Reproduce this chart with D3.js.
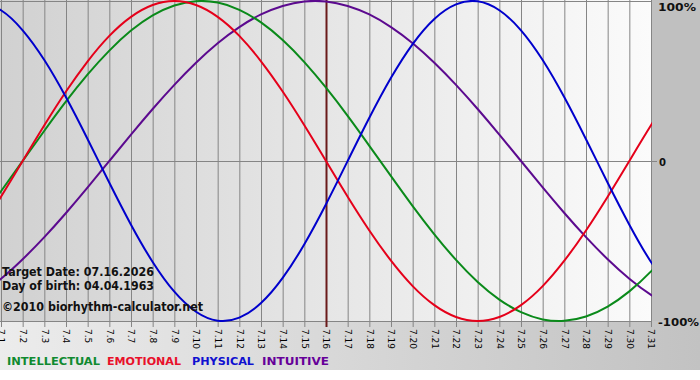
<!DOCTYPE html>
<html><head><meta charset="utf-8">
<script src="https://cdn.jsdelivr.net/npm/d3@7"></script>
<style>body{margin:0;background:#fff}svg{display:block}</style>
</head><body>
<script>
const days = [1,2,3,4,5,6,7,8,9,10,11,12,13,14,15,16,17,18,19,20,21,22,23,24,25,26,27,28,29,30,31];
const dayLabels = ["7.1","7.2","7.3","7.4","7.5","7.6","7.7","7.8","7.9","7.10","7.11","7.12","7.13","7.14","7.15","7.16","7.17","7.18","7.19","7.20","7.21","7.22","7.23","7.24","7.25","7.26","7.27","7.28","7.29","7.30","7.31"];
// curve samples include the day before (6.30) and after (8.1) the window, clipped to the plot
const curveDays = [0,1,2,3,4,5,6,7,8,9,10,11,12,13,14,15,16,17,18,19,20,21,22,23,24,25,26,27,28,29,30,31,32];
const intellectual = [-0.372,-0.189,0,0.189,0.372,0.541,0.690,0.815,0.910,0.972,0.999,0.990,0.945,0.866,0.756,0.618,0.458,0.282,0.095,-0.095,-0.282,-0.458,-0.618,-0.756,-0.866,-0.945,-0.990,-0.999,-0.972,-0.910,-0.815,-0.690,-0.541];
const emotional = [-0.434,-0.223,0,0.223,0.434,0.623,0.782,0.901,0.975,1,0.975,0.901,0.782,0.623,0.434,0.223,0,-0.223,-0.434,-0.623,-0.782,-0.901,-0.975,-1,-0.975,-0.901,-0.782,-0.623,-0.434,-0.223,0,0.223,0.434];
const physical = [0.998,0.942,0.817,0.631,0.398,0.136,-0.136,-0.398,-0.631,-0.817,-0.942,-0.998,-0.979,-0.888,-0.731,-0.520,-0.270,0,0.270,0.520,0.731,0.888,0.979,0.998,0.942,0.817,0.631,0.398,0.136,-0.136,-0.398,-0.631,-0.817];
const intuitive = [-0.837,-0.736,-0.614,-0.476,-0.325,-0.165,0,0.165,0.325,0.476,0.614,0.736,0.837,0.916,0.969,0.997,0.997,0.969,0.916,0.837,0.736,0.614,0.476,0.325,0.165,0,-0.165,-0.325,-0.476,-0.614,-0.736,-0.837,-0.916];
const targetDay = 16;
const yTicks = [1, 0, -1];
const yTickLabels = ["100%", "0", "-100%"];
const seriesNames = ["INTELLECTUAL","EMOTIONAL","PHYSICAL","INTUITIVE"];
const seriesColors = ["#0a8a1a","#e5001a","#0000cc","#5c0a8f"];
const legendColors = ["#108a30","#e8102a","#1010d0","#660099"];
const infoLines = ["Target Date: 07.16.2026","Day of birth: 04.04.1963","\u00a92010 biorhythm-calculator.net"];

const W = 700, H = 380;
const svg = d3.select("body").append("svg").attr("width", W).attr("height", H);
const defs = svg.append("defs");
const g1 = defs.append("linearGradient").attr("id","plotbg").attr("x1","0").attr("x2","1").attr("y1","0").attr("y2","0");
g1.append("stop").attr("offset","0").attr("stop-color","#d1d1d1");
g1.append("stop").attr("offset","1").attr("stop-color","#fbfbfb");
const g2 = defs.append("linearGradient").attr("id","botbg").attr("x1","0").attr("x2","1").attr("y1","0").attr("y2","0");
g2.append("stop").attr("offset","0").attr("stop-color","#ececec");
g2.append("stop").attr("offset","1").attr("stop-color","#c2c2c2");
defs.append("clipPath").attr("id","plotclip").append("rect")
  .attr("x",0).attr("y",-3).attr("width",652).attr("height",328);

const x = d3.scaleLinear().domain([1, 31]).range([1, 651]);
const y = d3.scaleLinear().domain([-1, 1]).range([321, 1]);

// backgrounds
svg.append("rect").attr("x",0).attr("y",0).attr("width",W).attr("height",370).attr("fill","url(#botbg)");
svg.append("rect").attr("x",651).attr("y",0).attr("width",49).attr("height",321).attr("fill","#c0c0c0");
svg.append("rect").attr("x",0).attr("y",0).attr("width",651).attr("height",321).attr("fill","url(#plotbg)");

// vertical gridlines + ticks
svg.append("g").selectAll("line").data(days).join("line")
  .attr("x1", d => x(d) + 0.5).attr("x2", d => x(d) + 0.5)
  .attr("y1", 0).attr("y2", 327)
  .attr("stroke", "#858585").attr("stroke-width", 1);
// horizontal lines
svg.append("g").selectAll("line").data(yTicks).join("line")
  .attr("x1", 0).attr("x2", d => d === 0 ? 657 : 652)
  .attr("y1", d => Math.round(y(d)) + 0.5).attr("y2", d => Math.round(y(d)) + 0.5)
  .attr("stroke", "#858585").attr("stroke-width", 1);

// x labels
svg.append("g").selectAll("text").data(days).join("text")
  .attr("transform", d => `translate(${x(d) + 0.5},329) rotate(90)`)
  .attr("dy", "0.35em")
  .attr("font-family", "'DejaVu Sans', Verdana, sans-serif")
  .attr("font-size", 9)
  .attr("fill", "#000")
  .text((d, i) => dayLabels[i]);

// y labels
const ylab = [[658, 11, 38], [659, 166, 7], [658, 326, 41]];
svg.append("g").selectAll("text").data(yTicks).join("text")
  .attr("x", (d, i) => ylab[i][0]).attr("y", (d, i) => ylab[i][1])
  .attr("textLength", (d, i) => ylab[i][2]).attr("lengthAdjust", "spacingAndGlyphs")
  .attr("font-family", "'DejaVu Sans', Verdana, sans-serif")
  .attr("font-weight", "bold").attr("font-size", 11).attr("fill", "#111")
  .text((d, i) => yTickLabels[i]);

// target line
svg.append("line").attr("x1", x(targetDay) + 0.5).attr("x2", x(targetDay) + 0.5)
  .attr("y1", 0).attr("y2", 327).attr("stroke", "#6a1a1a").attr("stroke-width", 2);

// curves
const line = d3.line().x((d, i) => x(curveDays[i])).y(d => y(d)).curve(d3.curveNatural);
const allSeries = [intellectual, emotional, physical, intuitive];
const drawOrder = [3, 0, 1, 2];
svg.append("g").attr("clip-path", "url(#plotclip)")
  .selectAll("path").data(drawOrder).join("path")
  .attr("d", k => line(allSeries[k]))
  .attr("fill", "none").attr("stroke", k => seriesColors[k]).attr("stroke-width", 2);

// info texts
const infoPos = [[276, 152], [290, 152], [311, 201]];
svg.append("g").selectAll("text").data(infoLines).join("text")
  .attr("x", 2).attr("y", (d, i) => infoPos[i][0])
  .attr("textLength", (d, i) => infoPos[i][1]).attr("lengthAdjust", "spacingAndGlyphs")
  .attr("font-family", "'DejaVu Sans', Verdana, sans-serif")
  .attr("font-weight", "bold").attr("font-size", 12).attr("fill", "#111")
  .text(d => d);

// legend
const legPos = [[7, 93], [107, 74], [192, 62], [262, 67]];
svg.append("g").selectAll("text").data(seriesNames).join("text")
  .attr("x", (d, i) => legPos[i][0]).attr("y", 365)
  .attr("textLength", (d, i) => legPos[i][1]).attr("lengthAdjust", "spacingAndGlyphs")
  .attr("font-family", "'DejaVu Sans', Verdana, sans-serif")
  .attr("font-weight", "bold")
  .attr("font-size", 11).attr("fill", (d, i) => legendColors[i])
  .text(d => d);
</script>
</body></html>
